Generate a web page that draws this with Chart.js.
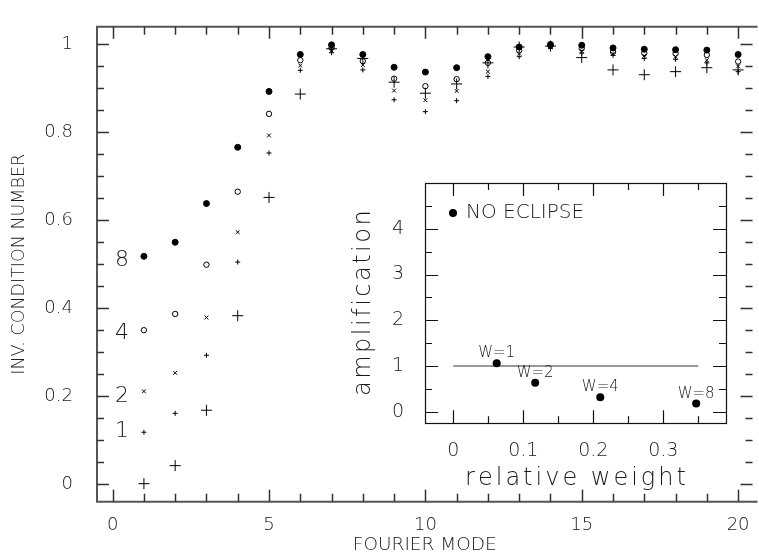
<!DOCTYPE html>
<html><head><meta charset="utf-8">
<script src="https://cdn.jsdelivr.net/npm/chart.js@4.4.1/dist/chart.umd.min.js"></script>
<style>
html,body{margin:0;padding:0;background:#fff;}
#wrap{position:relative;width:759px;height:555px;overflow:hidden;}
#wrap canvas{position:absolute;left:0;top:0;}
</style></head><body>
<div id="wrap"><canvas id="main" width="759" height="555"></canvas><canvas id="inset" width="759" height="555"></canvas></div>
<script>
// ---------- main panel data ----------
const modes = [1,2,3,4,5,6,7,8,9,10,11,12,13,14,15,16,17,18,19,20];
const invCondW8 = [0.518,0.550,0.638,0.766,0.893,0.977,0.999,0.977,0.948,0.937,0.947,0.972,0.994,1.000,0.998,0.992,0.989,0.988,0.987,0.977];
const invCondW4 = [0.350,0.387,0.499,0.665,0.842,0.964,0.992,0.962,0.922,0.905,0.921,0.958,0.986,0.997,0.991,0.983,0.980,0.979,0.976,0.961];
const invCondW2 = [0.211,0.253,0.379,0.573,0.793,0.952,0.986,0.953,0.895,0.873,0.894,0.938,0.979,0.994,0.985,0.979,0.974,0.972,0.964,0.950];
const invCondW1 = [0.118,0.161,0.293,0.505,0.753,0.941,0.981,0.942,0.874,0.847,0.872,0.927,0.972,0.991,0.980,0.975,0.968,0.966,0.958,0.938];
const invCondW0 = [0.001,0.042,0.168,0.383,0.652,0.887,0.990,0.968,0.914,0.889,0.910,0.958,0.994,0.996,0.970,0.942,0.931,0.938,0.947,0.942];
const weightLabels = ['8','4','2','1'];
const weightLabelX = [0.3,0.3,0.3,0.3];
const weightLabelY = [0.509,0.342,0.200,0.120];
const mainXTicks = [0,5,10,15,20];
const mainXMinor = [1,2,3,4,6,7,8,9,11,12,13,14,16,17,18,19];
const mainYTicks = [0,0.2,0.4,0.6,0.8,1];
const mainYMinor = [0.05,0.1,0.15,0.25,0.3,0.35,0.45,0.5,0.55,0.65,0.7,0.75,0.85,0.9,0.95];

// ---------- inset data ----------
const relWeight = [0.062,0.117,0.210,0.347];
const amplification = [1.06,0.635,0.32,0.18];
const wLabels = ['W=1','W=2','W=4','W=8'];
const refLineX = [0,0.35];
const refLineY = [1,1];
const insetXTicks = [0,0.1,0.2,0.3];
const insetXMinor = [0.05,0.15,0.25,0.35];
const insetYTicks = [0,1,2,3,4];
const insetYMinor = [0.5,1.5,2.5,3.5,4.5];
const insetXTitle = 'relative weight';
const insetYTitle = 'amplification';

const FONT = "'DejaVu Sans', sans-serif";
const W = '200';
const INK = '#1a1a1a';
const pts = (xs, ys) => xs.map((x,i)=>({x:x, y:ys[i]}));

function tickSet(ctx, scale, vals, len, horizontalAxis, a){
  vals.forEach(v=>{
    const p = Math.round(scale.getPixelForValue(v))+0.5;
    ctx.beginPath();
    if(horizontalAxis){
      ctx.moveTo(p,a.bottom); ctx.lineTo(p,a.bottom-len);
      ctx.moveTo(p,a.top); ctx.lineTo(p,a.top+len);
    } else {
      ctx.moveTo(a.left,p); ctx.lineTo(a.left+len,p);
      ctx.moveTo(a.right,p); ctx.lineTo(a.right-len,p);
    }
    ctx.stroke();
  });
}

function spacedText(ctx, text, cx, cy, spacing){
  // centred text with extra letter spacing, baseline at cy
  let total = 0;
  const widths = [...text].map(ch=>{const w=ctx.measureText(ch).width; total+=w; return w;});
  total += spacing*(text.length-1);
  let xx = cx - total/2;
  [...text].forEach((ch,i)=>{ ctx.fillText(ch, xx, cy); xx += widths[i]+spacing; });
}

const mainFrame = {
  id:'mainFrame',
  afterDatasetsDraw(chart){
    const {ctx, chartArea:a, scales:{x,y}} = chart;
    ctx.save();
    ctx.strokeStyle='#555'; ctx.lineWidth=2;
    ctx.beginPath();
    ctx.moveTo(a.right+5,a.top); ctx.lineTo(a.left,a.top); ctx.lineTo(a.left,a.bottom); ctx.lineTo(a.right+5,a.bottom);
    ctx.stroke();
    ctx.lineWidth=1.5; ctx.strokeStyle='#333';
    tickSet(ctx,x,mainXTicks,12,true,a);
    tickSet(ctx,x,mainXMinor,8,true,a);
    tickSet(ctx,y,mainYTicks,12,false,a);
    tickSet(ctx,y,mainYMinor,7,false,a);
    ctx.fillStyle=INK; ctx.font=W+" 22px "+FONT; ctx.textAlign='center'; ctx.textBaseline='middle';
    weightLabels.forEach((t,i)=>{
      ctx.fillText(t, x.getPixelForValue(weightLabelX[i]), y.getPixelForValue(weightLabelY[i]));
    });
    ctx.restore();
  }
};

new Chart(document.getElementById('main'), {
  type:'scatter',
  data:{ datasets:[
    {label:'w=8', data:pts(modes,invCondW8), pointStyle:'circle', pointRadius:3, backgroundColor:'#000', borderColor:'#000', borderWidth:1},
    {label:'w=4', data:pts(modes,invCondW4), pointStyle:'circle', pointRadius:2.7, backgroundColor:'rgba(0,0,0,0)', borderColor:'#000', borderWidth:1},
    {label:'w=2', data:pts(modes,invCondW2), pointStyle:'crossRot', pointRadius:2.7, borderColor:'#000', borderWidth:1},
    {label:'w=1', data:pts(modes,invCondW1), pointStyle:'cross', pointRadius:2.5, borderColor:'#000', borderWidth:1},
    {label:'w=0', data:pts(modes,invCondW0), pointStyle:'cross', pointRadius:5.5, borderColor:'#000', borderWidth:1}
  ]},
  options:{
    responsive:false, animation:false, devicePixelRatio:1,
    layout:{padding:{top:15,right:0,bottom:0,left:0}},
    plugins:{legend:{display:false}, tooltip:{enabled:false}},
    scales:{
      x:{type:'linear', min:-0.5, max:20.46, grid:{display:false}, border:{display:false},
        afterBuildTicks:s=>{s.ticks = mainXTicks.map(v=>({value:v}));},
        afterFit:s=>{s.height=53.3;},
        ticks:{font:{family:FONT,size:18,weight:W}, color:INK, padding:5, maxRotation:0, autoSkip:false, callback:v=>String(v)},
        title:{display:true, text:'FOURIER MODE', font:{family:FONT,size:18.5,weight:W}, color:INK, padding:{top:0,bottom:-1}}},
      y:{type:'linear', min:-0.04, max:1.04, grid:{display:false}, border:{display:false},
        afterBuildTicks:s=>{s.ticks = mainYTicks.map(v=>({value:v}));},
        afterFit:s=>{s.width=97;},
        ticks:{font:{family:FONT,size:18,weight:W}, color:INK, padding:16, autoSkip:false, callback:v=>(v===0||v===1)?String(v):v.toFixed(1)},
        title:{display:true, text:'INV. CONDITION NUMBER', font:{family:FONT,size:17.5,weight:W}, color:INK, padding:{top:9,bottom:0}}}
    }
  },
  plugins:[mainFrame]
});

const insetFrame = {
  id:'insetFrame',
  afterDatasetsDraw(chart){
    const {ctx, chartArea:a, scales:{x,y}} = chart;
    ctx.save();
    ctx.strokeStyle='#111'; ctx.lineWidth=1.2;
    ctx.strokeRect(Math.round(a.left)+0.5, Math.round(a.top)+0.5, Math.round(a.right-a.left), Math.round(a.bottom-a.top));
    tickSet(ctx,x,insetXTicks,13,true,a);
    tickSet(ctx,x,insetXMinor,7,true,a);
    tickSet(ctx,y,insetYTicks,13,false,a);
    tickSet(ctx,y,insetYMinor,7,false,a);
    ctx.fillStyle=INK; ctx.font=W+" 15px "+FONT; ctx.textAlign='center'; ctx.textBaseline='middle';
    wLabels.forEach((t,i)=>{
      ctx.fillText(t, x.getPixelForValue(relWeight[i]), y.getPixelForValue(amplification[i])-10);
    });
    // legend
    ctx.fillStyle='#000';
    ctx.beginPath(); ctx.arc(a.left+28, a.top+30, 4, 0, Math.PI*2); ctx.fill();
    ctx.fillStyle=INK; ctx.font=W+" 20px "+FONT; ctx.textAlign='left';
    ctx.fillText('NO ECLIPSE', a.left+41, a.top+30);
    // axis titles (wide, thin lettering)
    ctx.font=W+" 24px "+FONT; ctx.textAlign='left'; ctx.textBaseline='alphabetic';
    spacedText(ctx, insetXTitle, (a.left+a.right)/2, a.bottom+62, 3);
    ctx.save();
    ctx.translate(a.left-55, (a.top+a.bottom)/2);
    ctx.rotate(-Math.PI/2);
    spacedText(ctx, insetYTitle, 0, 0, 2.5);
    ctx.restore();
    ctx.restore();
  }
};

new Chart(document.getElementById('inset'), {
  type:'scatter',
  data:{ datasets:[
    {label:'NO ECLIPSE', data:pts(relWeight,amplification), pointStyle:'circle', pointRadius:4, backgroundColor:'#000', borderColor:'#000', borderWidth:0},
    {type:'line', label:'unity', data:pts(refLineX,refLineY), borderColor:'#777', borderWidth:1.5, pointRadius:0, fill:false}
  ]},
  options:{
    responsive:false, animation:false, devicePixelRatio:1,
    layout:{padding:{top:183,right:33,bottom:51.7,left:345}},
    plugins:{legend:{display:false}, tooltip:{enabled:false}},
    scales:{
      x:{type:'linear', min:-0.0404, max:0.3896, grid:{display:false}, border:{display:false},
        afterBuildTicks:s=>{s.ticks = insetXTicks.map(v=>({value:v}));},
        afterFit:s=>{s.height=80;},
        ticks:{font:{family:FONT,size:19,weight:W}, color:INK, padding:8, maxRotation:0, autoSkip:false, callback:v=>String(v)},
        title:{display:false}},
      y:{type:'linear', min:-0.25, max:5, grid:{display:false}, border:{display:false},
        afterBuildTicks:s=>{s.ticks = insetYTicks.map(v=>({value:v}));},
        afterFit:s=>{s.width=80;},
        ticks:{font:{family:FONT,size:19,weight:W}, color:INK, padding:13, autoSkip:false, callback:v=>String(v)},
        title:{display:false}}
    }
  },
  plugins:[insetFrame]
});
</script>
</body></html>
